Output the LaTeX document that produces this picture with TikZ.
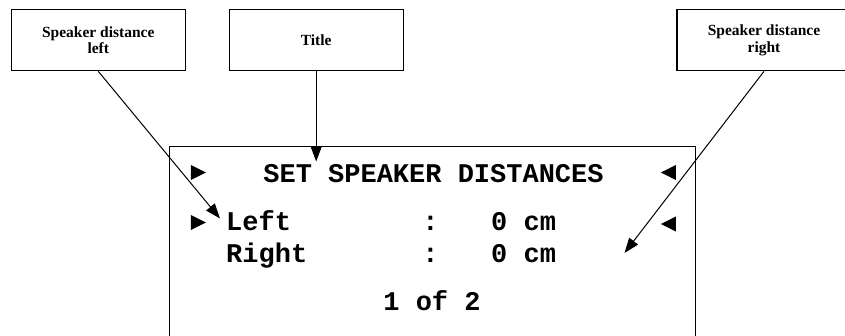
\documentclass[tikz,border=0pt]{standalone}
\usepackage{fontspec}
\usepackage{tikz}
\usetikzlibrary{arrows.meta,positioning}
\newfontfamily\lcdfont{Liberation Mono}
\newfontfamily\notefont{Liberation Serif}
\newcommand{\cursorR}[2]{\fill (#1,#2) ++(-7.5,-7.5) -- ++(15,7.5) -- ++(-15,7.5) -- cycle;}
\newcommand{\cursorL}[2]{\fill (#1,#2) ++(7.5,-7.5) -- ++(-15,7.5) -- ++(15,7.5) -- cycle;}

\begin{document}
\begin{tikzpicture}[x=1pt, y=-1pt,
    note/.style={draw, line width=1.3pt, minimum width=174pt, minimum height=61pt, align=center,
        font=\notefont\bfseries\fontsize{15.5}{16.5}\selectfont},
    lcd/.style={inner sep=0pt, font=\lcdfont\bfseries\fontsize{27}{27}\selectfont},
    pointer/.style={line width=1pt, -{Triangle[length=15pt,width=11pt]}}]
    \useasboundingbox (0,0) rectangle (845,336);

    \node[note] (leftnote) at (98.3,40.2) {Speaker distance\\left};
    \node[note] (titlenote) at (316.2,40.2) {Title};
    \node[note] (rightnote) at (764,40.2) {Speaker distance\\right};

    \node[draw, line width=1.3pt, minimum width=526pt, minimum height=200pt] (display) at (432.5,246.5) {};

    \node[lcd, anchor=base] (title) at (433.5,182.7) {SET SPEAKER DISTANCES};
    \node[lcd, anchor=base west] (leftname) at (226,231) {Left};
    \node[lcd, anchor=base] (leftcolon) at (430.5,231) {:};
    \node[lcd, anchor=base west] (leftvalue) at (491,231) {0 cm};
    \node[lcd, anchor=base west] (rightname) at (226,263) {Right};
    \node[lcd, anchor=base] (rightcolon) at (430.5,263) {:};
    \node[lcd, anchor=base west] (rightvalue) at (491,263) {0 cm};
    \node[lcd, anchor=base] (page) at (432,310) {1 of 2};

    \cursorR{198.3}{172.5}
    \cursorR{198.3}{222.5}
    \cursorL{668.3}{172.5}
    \cursorL{668.3}{224}

    \coordinate (tipL) at (220,218.5);
    \coordinate (tipT) at (316.2,161.5);
    \coordinate (tipR) at (624.5,253);

    \draw[pointer] (leftnote.south) -- (tipL);
    \draw[pointer] (titlenote.south) -- (tipT);
    \draw[pointer] (rightnote.south) -- (tipR);
\end{tikzpicture}
\end{document}
